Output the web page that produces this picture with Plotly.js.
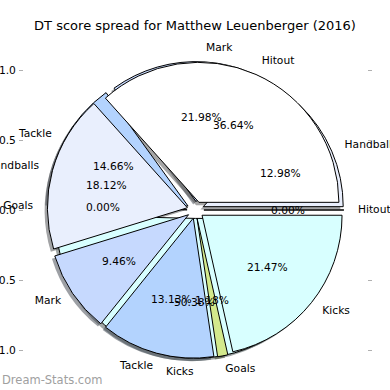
<!DOCTYPE html>
<html><head><meta charset="utf-8">
<script src="https://cdn.plot.ly/plotly-3.0.1.min.js"></script>
<style>html,body{margin:0;padding:0;background:#fff}#chart{width:390px;height:390px}</style>
</head><body><div id="chart"></div>
<script>
// ---- data ----
const categories = ['Hitout', 'Handballs', 'Mark', 'Tackle', 'Goals', 'Kicks'];
const backValues = [0, 12.98, 21.98, 14.66, 0, 50.38];
const frontValues = [36.64, 18.12, 9.46, 13.13, 1.18, 21.47];
const sliceColors = ['#ffffff', '#e9effd', '#c6d9fe', '#b3d3fe', '#d3e98c', '#d8ffff'];
const yTickVals = [-1, -0.5, 0, 0.5, 1];
const yTickText = ['-1.0', '-0.5', '0.0', '0.5', '1.0'];
const titleText = 'DT score spread for Matthew Leuenberger (2016)';
const watermark = 'Dream-Stats.com';

// ---- layout constants ----
const W = 390, H = 390, M = {l: 24, r: 23, t: 35, b: 5};
const PW = W - M.l - M.r, PH = H - M.t - M.b;
const R = 140;               // pixels per data unit (= pie radius)
const EXPLODE = 0.06, LABEL_D = 1.1, PCT_D = 0.6, SHADOW = 0.02;
const FONT = 'DejaVu Sans, sans-serif';
const FS = 10.7;

function domainFor(dx, dy) {
  const box = 2 * R * (1 + EXPLODE);
  const cx = 0.5 + dx * R / PW, cy = 0.5 + dy * R / PH;
  const hw = box / 2 / PW, hh = box / 2 / PH;
  return {x: [cx - hw, cx + hw], y: [cy - hh, cy + hh]};
}
const rev = a => a.slice().reverse();
function shade(hex) {
  const n = parseInt(hex.slice(1), 16);
  const r = (n >> 16) & 255, g = (n >> 8) & 255, b = n & 255;
  return 'rgba(' + Math.round(r * 0.3) + ',' + Math.round(g * 0.3) + ',' + Math.round(b * 0.3) + ',0.5)';
}
function pieTrace(values, colors, domain, line) {
  return {
    type: 'pie', labels: rev(categories), values: rev(values),
    marker: {colors: rev(colors), line: line},
    pull: values.map(() => EXPLODE), sort: false,
    direction: 'clockwise', rotation: 90,
    textinfo: 'none', hoverinfo: 'skip', showlegend: false, domain: domain
  };
}
function textItems(values) {
  const total = values.reduce((a, b) => a + b, 0);
  let cum = 0;
  return values.map((v, i) => {
    const th = 2 * Math.PI * (cum + v / 2) / total; cum += v;
    const ox = EXPLODE * Math.cos(th), oy = EXPLODE * Math.sin(th);
    return {
      lx: ox + LABEL_D * Math.cos(th), ly: oy + LABEL_D * Math.sin(th),
      px: ox + PCT_D * Math.cos(th), py: oy + PCT_D * Math.sin(th),
      label: categories[i], pct: (100 * v / total).toFixed(2) + '%'
    };
  });
}

const edge = {color: '#000000', width: 1};
const noEdge = {color: 'rgba(0,0,0,0)', width: 0};
const shadowColors = sliceColors.map(shade);

const traces = [
  pieTrace(backValues, shadowColors, domainFor(-SHADOW, -SHADOW), noEdge),
  pieTrace(frontValues, shadowColors, domainFor(-SHADOW, -SHADOW), noEdge),
  pieTrace(backValues, sliceColors, domainFor(0, 0), edge),
  pieTrace(frontValues, sliceColors, domainFor(0, 0), edge)
];

const items = textItems(backValues).concat(textItems(frontValues));
traces.push({
  type: 'scatter', mode: 'text', cliponaxis: false, hoverinfo: 'skip', showlegend: false,
  x: items.map(d => d.lx), y: items.map(d => d.ly), text: items.map(d => d.label),
  textposition: items.map(d => d.lx > 0 ? 'middle right' : 'middle left'),
  textfont: {family: FONT, size: FS, color: '#000'}
});

const annotations = items.map(d => ({
  x: d.px, y: d.py, xref: 'x', yref: 'y', text: d.pct, showarrow: false,
  xanchor: 'center', yanchor: 'middle', font: {family: FONT, size: FS, color: '#000'}
}));
annotations.push({
  xref: 'paper', yref: 'paper', x: -M.l / PW, y: (H - M.b - 380) / PH,
  xanchor: 'left', yanchor: 'middle', text: watermark, showarrow: false,
  font: {family: FONT, size: 11.5, color: '#a0a0a0'}
});

const layout = {
  width: W, height: H, margin: M, paper_bgcolor: '#fff', plot_bgcolor: 'rgba(0,0,0,0)',
  title: {text: titleText, font: {family: FONT, size: 13, color: '#000'},
          x: 0.5, xref: 'container', xanchor: 'center', y: 1 - 25 / H, yref: 'container', yanchor: 'middle'},
  xaxis: {range: [-PW / 2 / R, PW / 2 / R], showgrid: false, zeroline: false, showticklabels: false,
          ticks: '', showline: false, fixedrange: true},
  yaxis: {range: [-PH / 2 / R, PH / 2 / R], showgrid: false, zeroline: false, showline: false,
          tickvals: yTickVals, ticktext: yTickText, ticks: 'outside', ticklen: 4, tickwidth: 1,
          tickcolor: '#b0b0b0', mirror: 'ticks', fixedrange: true, ticklabelstandoff: 1,
          tickfont: {family: FONT, size: FS, color: '#000'}},
  annotations: annotations,
  showlegend: false
};

Plotly.newPlot('chart', traces, layout, {staticPlot: true});
</script></body></html>
